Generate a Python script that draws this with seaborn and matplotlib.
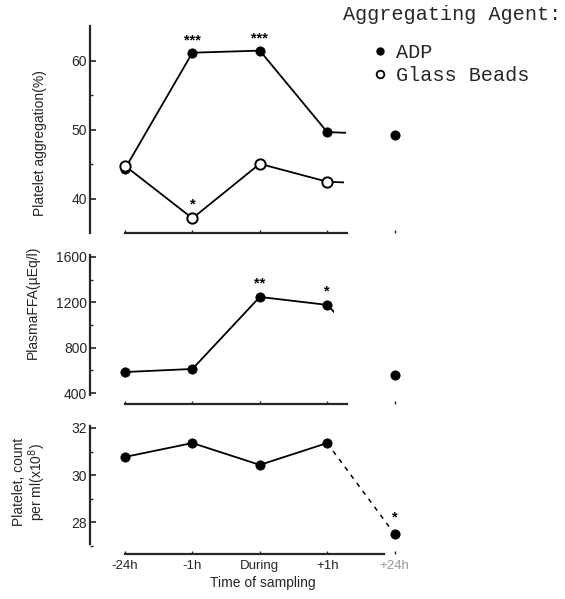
import numpy as np
import pandas as pd
import matplotlib
matplotlib.use("Agg")
import matplotlib.pyplot as plt
import seaborn as sns
from matplotlib.lines import Line2D
from matplotlib.ticker import MultipleLocator, FixedLocator
from matplotlib.transforms import Bbox, TransformedBbox

# ---------------- data ----------------
times = ["-24h", "-1h", "During", "+1h", "+24h"]
adp_aggregation = [44.4, 61.2, 61.5, 49.7, 49.3]
glass_aggregation = [44.8, 37.2, 45.1, 42.5, 42.1]
plasma_ffa = [585, 612, 1247, 1177, 560]
platelet_count = [30.77, 31.36, 30.43, 31.36, 27.49]
adp_stars = ["", "***", "***", "", ""]
glass_stars = ["", "*", "", "", ""]
ffa_stars = ["", "", "**", "*", ""]
count_stars = ["", "", "", "", "*"]

df = pd.DataFrame({
    "time": times,
    "adp": adp_aggregation,
    "glass": glass_aggregation,
    "ffa": plasma_ffa,
    "count": platelet_count,
})

sns.set_theme(style="ticks")
plt.rcParams["font.family"] = ["Liberation Sans", "DejaVu Sans"]
plt.rcParams["axes.linewidth"] = 1.6

W, H = 565, 599
fig = plt.figure(figsize=(W / 100, H / 100), dpi=100)


def add_ax(top_px, bottom_px, left_px=90, right_px=435):
    return fig.add_axes([left_px / W, (H - bottom_px) / H,
                         (right_px - left_px) / W, (bottom_px - top_px) / H])


ax1 = add_ax(26, 233)
ax2 = add_ax(255, 404)
ax3 = add_ax(426, 554)

LW = 1.3
first4 = df.iloc[:4]
last2 = df.iloc[3:5]


def stub(ax, col, xmax, **kw):
    n0 = len(ax.lines)
    sns.lineplot(data=last2, x="time", y=col, ax=ax, color="black", lw=LW,
                 sort=False, **kw)
    for ln in ax.lines[n0:]:
        ln.set_clip_box(TransformedBbox(Bbox([[-1, -1e6], [xmax, 1e6]]), ax.transData))


def stars(ax, col, labels, dy=10):
    for t, v, s in zip(df["time"], df[col], labels):
        if s:
            ax.annotate(s, (t, v), xytext=(0, dy), textcoords="offset points",
                        ha="center", va="center", fontsize=10.5, fontweight="bold",
                        color="black")


# ---- panel 1: platelet aggregation ----
sns.lineplot(data=first4, x="time", y="adp", ax=ax1, color="black", lw=LW, sort=False)
sns.lineplot(data=first4, x="time", y="glass", ax=ax1, color="black", lw=LW, sort=False)
stub(ax1, "adp", 3.28)
stub(ax1, "glass", 3.25)
sns.scatterplot(data=df, x="time", y="adp", ax=ax1, color="black", s=45,
                edgecolor="black", zorder=5)
sns.scatterplot(data=first4, x="time", y="glass", ax=ax1, color="white", s=55,
                edgecolor="black", linewidth=1.4, zorder=5)
stars(ax1, "adp", adp_stars, dy=9)
stars(ax1, "glass", glass_stars)
ax1.set_ylim(35.07, 65.07)
ax1.yaxis.set_major_locator(FixedLocator([40, 50, 60]))
ax1.yaxis.set_minor_locator(FixedLocator([45, 55]))
ax1.spines["bottom"].set_bounds(0, 3.3)

# ---- panel 2: plasma FFA ----
sns.lineplot(data=first4, x="time", y="ffa", ax=ax2, color="black", lw=LW, sort=False)
stub(ax2, "ffa", 3.1)
sns.scatterplot(data=df, x="time", y="ffa", ax=ax2, color="black", s=45,
                edgecolor="black", zorder=5)
stars(ax2, "ffa", ffa_stars)
ax2.set_ylim(303, 1617)
ax2.yaxis.set_major_locator(FixedLocator([400, 800, 1200, 1600]))
ax2.yaxis.set_minor_locator(MultipleLocator(200))
ax2.spines["left"].set_bounds(382, 1617)
ax2.spines["bottom"].set_bounds(0, 3.3)

# ---- panel 3: platelet count ----
sns.lineplot(data=first4, x="time", y="count", ax=ax3, color="black", lw=LW, sort=False)
sns.lineplot(data=last2, x="time", y="count", ax=ax3, color="black", lw=1.1,
             sort=False, linestyle=(0, (3, 3.5)))
sns.scatterplot(data=df, x="time", y="count", ax=ax3, color="black", s=45,
                edgecolor="black", zorder=5)
stars(ax3, "count", count_stars, dy=12)
ax3.set_ylim(26.64, 32.085)
ax3.yaxis.set_major_locator(FixedLocator([28, 30, 32]))
ax3.yaxis.set_minor_locator(MultipleLocator(1))
ax3.spines["left"].set_bounds(27.06, 32.085)
ax3.spines["bottom"].set_bounds(0, 3.85)

for ax in (ax1, ax2, ax3):
    sns.despine(ax=ax)
    ax.set_xlim(-0.52, 4.6)
    ax.set_xlabel("")
    ax.set_ylabel("")
    ax.tick_params(axis="y", which="major", direction="in", length=4, width=1.2,
                   labelsize=10, pad=2)
    ax.tick_params(axis="y", which="minor", direction="in", length=2.5, width=1.0)
    ax.tick_params(axis="x", direction="in", length=2.5, width=1.0)
    ax.set_xticks(range(5))

for ax in (ax1, ax2):
    ax.tick_params(axis="x", labelbottom=False)

ax3.set_xticklabels(times, fontsize=9.5)
ax3.get_xticklabels()[-1].set_color("#999999")
ax3.tick_params(axis="x", pad=4)
ax3.set_xlabel("Time of sampling", fontsize=10, labelpad=3)

# y labels
ax1.set_ylabel("Platelet aggregation(%)", fontsize=10, va="center")
ax1.yaxis.set_label_coords(-0.145, 0.435)
ax2.set_ylabel("PlasmaFFA(\u00b5Eq/l)", fontsize=10, va="center")
ax2.yaxis.set_label_coords(-0.165, 0.68)
ax3.set_ylabel("Platelet, count\nper ml(x10$^8$)", fontsize=10, va="center",
               linespacing=1.0)
ax3.yaxis.set_label_coords(-0.174, 0.5625)

# legend
mono = {"family": ["Liberation Mono", "DejaVu Sans Mono"], "size": 14.5}
fig.text(343 / W, 1 - 15 / H, "Aggregating Agent:", ha="left", va="center",
         fontdict=mono)
handles = [Line2D([], [], marker="o", color="black", linestyle="none", markersize=5),
           Line2D([], [], marker="o", color="black", markerfacecolor="white",
                  markeredgewidth=1.3, linestyle="none", markersize=5.5)]
fig.legend(handles, ["ADP", "Glass Beads"], loc="upper left",
           bbox_to_anchor=(360 / W, 1 - 33 / H), frameon=False, borderpad=0,
           handlelength=1.0, handletextpad=0.3, labelspacing=0.2,
           prop={"family": ["Liberation Mono", "DejaVu Sans Mono"], "size": 14.5})

fig.savefig("out.png", dpi=100)
